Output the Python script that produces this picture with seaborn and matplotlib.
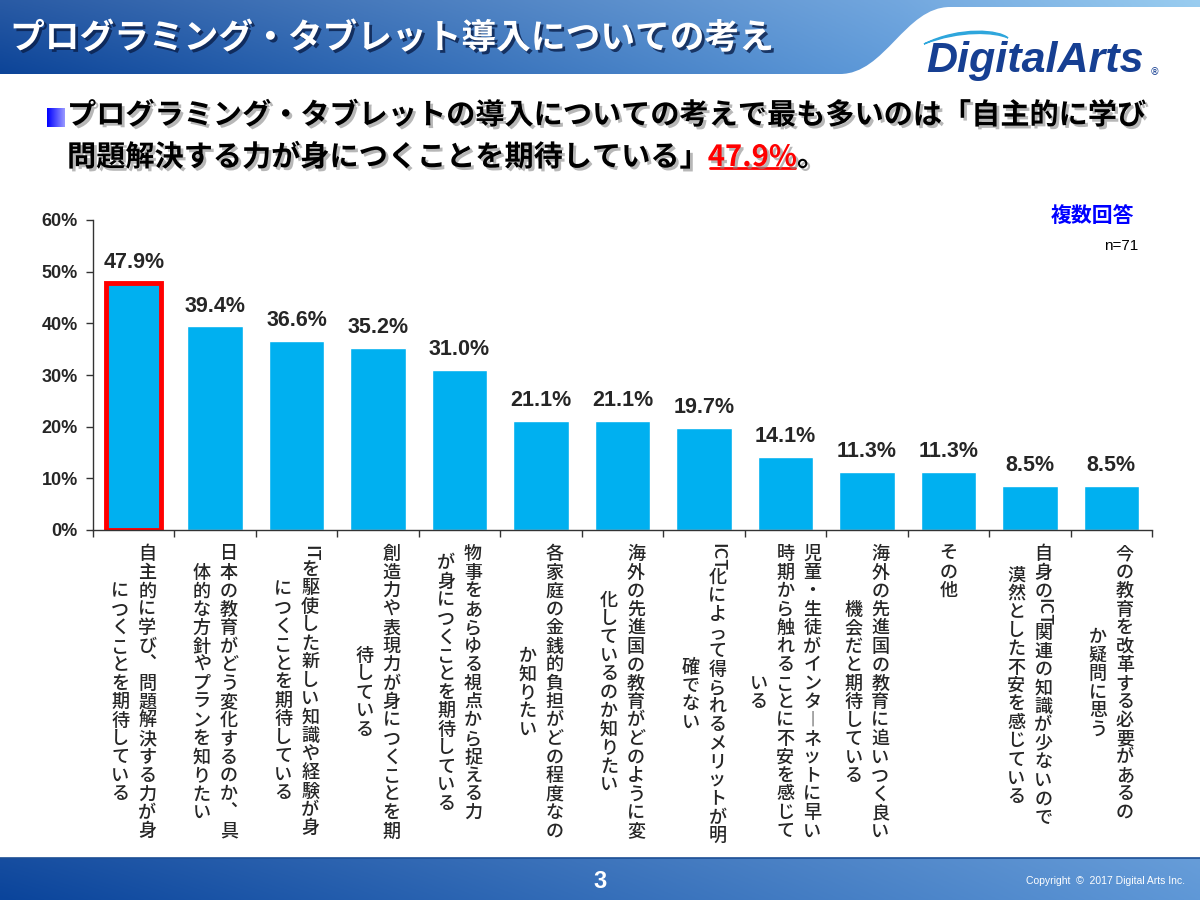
import numpy as np
import matplotlib
matplotlib.use("Agg")
import matplotlib.pyplot as plt
import matplotlib.patheffects as pe
from matplotlib.patches import PathPatch
from matplotlib.path import Path
import seaborn as sns

sns.set_style("white")
plt.rcParams['font.family'] = ['Noto Sans CJK JP', 'DejaVu Sans']

# ---------- data ----------
label_cols = [
    ["自主的に学び、問題解決する力が身", "につくことを期待している"],
    ["日本の教育がどう変化するのか、具", "体的な方針やプランを知りたい"],
    ["ITを駆使した新しい知識や経験が身", "につくことを期待している"],
    ["創造力や表現力が身につくことを期", "待している"],
    ["物事をあらゆる視点から捉える力", "が身につくことを期待している"],
    ["各家庭の金銭的負担がどの程度なの", "か知りたい"],
    ["海外の先進国の教育がどのように変", "化しているのか知りたい"],
    ["ICT化によって得られるメリットが明", "確でない"],
    ["児童・生徒がインターネットに早い", "時期から触れることに不安を感じて", "いる"],
    ["海外の先進国の教育に追いつく良い", "機会だと期待している"],
    ["その他"],
    ["自身のICT関連の知識が少ないので", "漠然とした不安を感じている"],
    ["今の教育を改革する必要があるの", "か疑問に思う"],
]
categories = ["".join(c) for c in label_cols]
values = [47.9, 39.4, 36.6, 35.2, 31.0, 21.1, 21.1, 19.7, 14.1, 11.3, 11.3, 8.5, 8.5]
yticks = [0, 10, 20, 30, 40, 50, 60]

title = "プログラミング・タブレット導入についての考え"
sub1 = "プログラミング・タブレットの導入についての考えで最も多いのは「自主的に学び"
sub2 = "問題解決する力が身につくことを期待している」"
sub_hi = "47.9%"

BAR = "#00B0F0"
NARROW = ['Liberation Sans Narrow', 'Liberation Sans', 'DejaVu Sans']

fig = plt.figure(figsize=(12, 9), dpi=100)

# ---------- background: header / footer ----------
bg = fig.add_axes([0, 0, 1, 1], zorder=-1)
bg.axis("off")

def hgrad(c0, c1, c2=None, n=300, top_light=0.12):
    c0, c1 = np.array(c0) / 255, np.array(c1) / 255
    t = np.linspace(0, 1, n)
    if c2 is None:
        row = c0[None, :] * (1 - t[:, None]) + c1[None, :] * t[:, None]
    else:
        c2 = np.array(c2) / 255
        row = np.where(t[:, None] < 0.75,
                       c0 + (c1 - c0) * (t[:, None] / 0.75),
                       c1 + (c2 - c1) * ((t[:, None] - 0.75) / 0.25))
    v = np.linspace(top_light, 0, 40)[:, None, None]
    img = row[None, :, :] + (1 - row[None, :, :]) * v
    return np.clip(img, 0, 1)

verts = [(0, 0), (1200, 0), (1200, 7), (950, 7), (905, 7), (885, 74), (840, 74), (0, 74), (0, 0)]
codes = [Path.MOVETO, Path.LINETO, Path.LINETO, Path.LINETO,
         Path.CURVE4, Path.CURVE4, Path.CURVE4, Path.LINETO, Path.CLOSEPOLY]
hpatch = PathPatch(Path(verts, codes), facecolor="none", edgecolor="none")
bg.add_patch(hpatch)
im = bg.imshow(hgrad((12, 68, 152), (95, 155, 218), (140, 198, 238)),
               extent=[0, 1200, 75, 0], aspect="auto", zorder=0)
im.set_clip_path(hpatch)

bg.imshow(hgrad((10, 68, 155), (95, 152, 215), n=300, top_light=0.05),
          extent=[0, 1200, 900, 858], aspect="auto", zorder=0)
bg.plot([0, 1200], [858, 858], color="#1d4f95", lw=1.2)

bg.text(600, 881, "3", color="white", fontsize=17, fontweight="bold",
        ha="center", va="center", family=NARROW)
bg.text(1185, 881, "Copyright  \u00a9  2017 Digital Arts Inc.", color="white",
        fontsize=7.5, ha="right", va="center", family=NARROW)

# title
bg.text(10, 38, title, color="white", fontsize=25, fontweight="bold",
        ha="left", va="center",
        path_effects=[pe.withSimplePatchShadow(offset=(2, -2), shadow_rgbFace="#0a1f4a", alpha=0.8)])

# logo
bg.text(926, 61, "DigitalArts", color="#163f92", fontsize=31, fontstyle="italic",
        fontweight="bold", ha="left", va="center", family=['Liberation Sans', 'DejaVu Sans'])
bg.text(1150, 72, "\u00ae", color="#163f92", fontsize=7, ha="left", va="center",
        family=['DejaVu Sans'])
sw = Path([(924, 44), (960, 26), (1000, 30), (1008, 38), (995, 32), (960, 30), (924, 44)],
          [Path.MOVETO, Path.CURVE4, Path.CURVE4, Path.CURVE4, Path.CURVE4, Path.CURVE4, Path.CURVE4])
bg.add_patch(PathPatch(sw, facecolor="#2ea6dc", edgecolor="#2ea6dc", lw=1))

# subtitle
sq = np.linspace(0, 1, 50)
sq_img = np.stack([sq * 0.6, sq * 0.6, np.ones_like(sq)], axis=-1)[None, :, :]
sq_img = np.repeat(sq_img, 10, axis=0)
bg.imshow(sq_img, extent=[47, 65, 127, 108], aspect="auto", zorder=1)

shadow = [pe.withSimplePatchShadow(offset=(2, -2), shadow_rgbFace="#888888", alpha=0.6)]
bg.text(67, 115, sub1, fontsize=21, fontweight="bold", ha="left", va="center",
        color="black", path_effects=shadow)
t2 = bg.text(67, 157, sub2, fontsize=21, fontweight="bold", ha="left", va="center",
             color="black", path_effects=shadow)
t3 = bg.annotate(sub_hi, xy=(1, 0), xycoords=t2, ha="left", va="bottom",
                 fontsize=21, fontweight="bold", color="#FF0000", path_effects=shadow)
t4 = bg.annotate("。", xy=(1, 0), xycoords=t3, ha="left", va="bottom",
                 fontsize=21, fontweight="bold", color="black", path_effects=shadow)

bg.text(1092, 215, "複数回答", fontsize=15, fontweight="bold", color="#0000FF",
        ha="center", va="center")
bg.text(1138, 246, "n=71", fontsize=11, color="black", ha="right", va="center",
        family=NARROW)
bg.set_xlim(0, 1200)
bg.set_ylim(900, 0)

# ---------- chart ----------
ax = fig.add_axes([93 / 1200, 1 - 530 / 900, (1152 - 93) / 1200, 310 / 900])
sns.barplot(x=categories, y=values, order=categories, color=BAR, saturation=1,
            width=0.68, ax=ax)
ax.patches[0].set_edgecolor("#FF0000")
ax.patches[0].set_linewidth(3.5)

ax.bar_label(ax.containers[0], labels=[f"{v:.1f}%" for v in values], padding=7,
             fontsize=15.5, fontweight="bold", family=NARROW)

ax.set_xlim(-0.5, len(values) - 0.5)
ax.set_ylim(0, 60)
ax.set_yticks(yticks)
ax.set_yticklabels([f"{v}%" for v in yticks], fontsize=13, fontweight="bold", family=NARROW)
ax.set_xticks(np.arange(-0.5, len(values), 1))
ax.set_xticklabels([])
ax.set_xlabel("")
ax.set_ylabel("")
ax.tick_params(axis="both", direction="out", length=5, width=1, color="#333333",
               left=True, bottom=True, pad=6)
for s in ["top", "right"]:
    ax.spines[s].set_visible(False)
for s in ["left", "bottom"]:
    ax.spines[s].set_color("#333333")
    ax.spines[s].set_linewidth(1)
ax.set_facecolor("none")

# vertical (tategaki) category labels
VERT = {"、": "\ufe11", "ー": "\ufe31"}
PITCH = 13.3   # pt per character
GAP = 19.4     # pt between columns
TOP = 17.5     # pt from axis to first char centre

def tokens(s):
    out, buf = [], ""
    for ch in s:
        if ch.isascii() and ch.isalpha():
            buf += ch
        else:
            if buf:
                out.append((buf, 0.42 * len(buf)))
                buf = ""
            out.append((VERT.get(ch, ch), 1.0))
    if buf:
        out.append((buf, 0.42 * len(buf)))
    return out

for i, cols in enumerate(label_cols):
    toks = [tokens(c) for c in cols]
    lens = [sum(a for _, a in t) for t in toks]
    H = max(lens)
    n = len(cols)
    for j, tk in enumerate(toks):
        dx = (n - 1) / 2 * GAP - j * GAP
        pos = (H - lens[j]) / 2
        for ch, adv in tk:
            cy = -(TOP + (pos + adv / 2 - 0.5) * PITCH)
            rot = -90 if adv != 1.0 else 0
            ax.annotate(ch, xy=(i, 0), xycoords=("data", "axes fraction"),
                        xytext=(dx, cy), textcoords="offset points",
                        ha="center", va="center", fontsize=13, fontweight="medium",
                        rotation=rot, annotation_clip=False)
            pos += adv

# underline for highlighted number
fig.canvas.draw()
bb = t3.get_window_extent()
inv = bg.transData.inverted()
(x0, y0), (x1, _) = inv.transform([(bb.x0, bb.y0), (bb.x1, bb.y0)])
bg.plot([x0 + 2, x1 - 2], [y0 - 4, y0 - 4], color="#FF0000", lw=2)
bg.set_xlim(0, 1200)
bg.set_ylim(900, 0)

fig.savefig("out.png", dpi=100)
